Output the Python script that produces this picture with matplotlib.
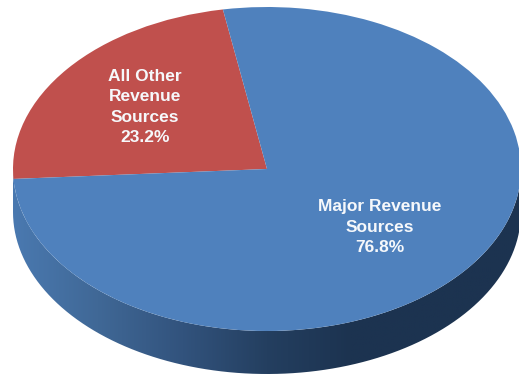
#!/usr/bin/env python3
"""Revenue share as a tilted pie with a shaded side wall."""
import numpy as np
import matplotlib

matplotlib.use("Agg")
import matplotlib.pyplot as plt
from matplotlib.colors import LinearSegmentedColormap
from matplotlib.patches import PathPatch
from matplotlib.path import Path

categories = ["All Other\nRevenue\nSources", "Major Revenue\nSources"]
shares = [23.2, 76.8]
slice_colors = ["#c0504d", "#4f81bd"]

# Side wall shading, left to right
wall_colors = ["#4a79b0", "#406896", "#32537d", "#243f60", "#1c3350", "#1c3350", "#1c3350"]

W, H = 519, 375
CX, CY = 267.0, 169.0  # ellipse centre in pixels
RX, RY = 254.0, 162.0
DEPTH = 43.0 / RY  # wall height in pie units

plt.rcParams["font.family"] = ["Liberation Sans", "DejaVu Sans"]

fig = plt.figure(figsize=(W / 100, H / 100), dpi=100)
ax = fig.add_axes([0, 0, 1, 1])

# Side wall: lower half of the rim swept down by DEPTH
t = np.linspace(np.pi, 2 * np.pi, 200)
xs = np.cos(t)
ys = np.sin(t)
verts = np.column_stack([
    np.concatenate([xs, xs[::-1]]),
    np.concatenate([ys, ys[::-1] - DEPTH]),
])
wall = PathPatch(Path(np.vstack([verts, verts[:1]])), fc="none", ec="none")
ax.add_patch(wall)
cmap = LinearSegmentedColormap.from_list("wall", wall_colors)
img = ax.imshow(
    np.linspace(0, 1, 256).reshape(1, -1),
    cmap=cmap,
    extent=(-1, 1, -1 - DEPTH, 0),
    aspect="auto",
    zorder=1,
)
img.set_clip_path(wall)

wedges, _ = ax.pie(
    shares,
    colors=slice_colors,
    startangle=100,
    counterclock=True,
    radius=1,
    wedgeprops={"linewidth": 0},
)
for w in wedges:
    w.set_zorder(2)

# Unequal scales squash the unit circle into the tilted ellipse
ax.set_aspect("auto")
ax.set_xlim(-CX / RX, (W - CX) / RX)
ax.set_ylim((CY - H) / RY, CY / RY)
ax.axis("off")

label_pos = [(145, 107), (380, 227)]
for name, share, (px, py) in zip(categories, shares, label_pos):
    ax.text(
        (px - CX) / RX,
        (CY - py) / RY,
        f"{name}\n{share}%",
        color="#f6f8fb",
        fontsize=12.5,
        fontweight="bold",
        ha="center",
        va="center",
        linespacing=1.47,
        zorder=3,
    )

fig.savefig("out.png", dpi=100, facecolor="white")
